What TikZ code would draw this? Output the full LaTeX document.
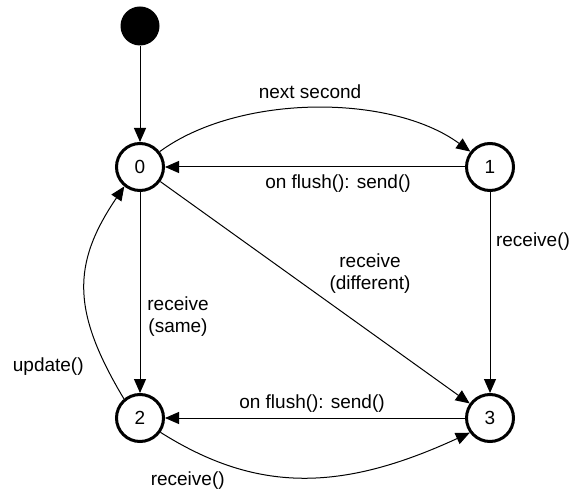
\documentclass[tikz,border=0pt]{standalone}
\usepackage{fontspec}
\setmainfont{Liberation Sans}
\usetikzlibrary{arrows.meta}
\begin{document}
\begin{tikzpicture}[x=1bp,y=-1bp,
  state/.style={circle,draw,line width=3bp,minimum size=47bp,inner sep=0pt,font=\fontsize{19bp}{22bp}\selectfont},
  initdot/.style={circle,fill=black,minimum size=39bp,inner sep=0pt},
  trans/.style={draw,line width=1bp,-{Triangle[length=14bp,width=12bp]}},
  lbl/.style={anchor=center,align=center,inner sep=0pt,font=\fontsize{19bp}{22bp}\selectfont}]
\useasboundingbox (0,0) rectangle (579,494);

\node[initdot] (init) at (140,26) {};
\node[state] (n0) at (140,167) {0};
\node[state] (n1) at (490,167) {1};
\node[state] (n2) at (140,418) {2};
\node[state] (n3) at (490,418) {3};

\draw[trans] (init) -- (n0);
\draw[trans] (n0.38) .. controls +(79,-58) and +(-79,-58) .. (n1.142)
  node[lbl,pos=0.5,xshift=-5bp,yshift=16bp] (l01) {next second};
\draw[trans] (n1) -- (n0)
  node[lbl,pos=0.5,xshift=23bp,yshift=-16.5bp] (l10) {on flush(): send()};
\draw[trans] (n1) -- (n3)
  node[lbl,pos=0.25,xshift=43bp,yshift=1bp] (l13) {receive()};
\draw[trans] (n0) -- (n3)
  node[lbl,pos=0.5,xshift=55bp,yshift=18.5bp] (l03) {receive\\(different)};
\draw[trans] (n0) -- (n2)
  node[lbl,pos=0.5,xshift=38bp,yshift=-24.5bp] (l02) {receive\\(same)};
\draw[trans] (n2.130) .. controls +(-52,-87) and +(-53,78) .. (n0.231)
  node[lbl,pos=0.13,xshift=-58bp] (l20) {update()};
\draw[trans] (n3) -- (n2)
  node[lbl,pos=0.5,xshift=-3bp,yshift=14.5bp] (l32) {on flush(): send()};
\draw[trans] (n2.-35) .. controls +(95,60) and +(-130,60) .. (n3.216)
  node[lbl,pos=0.1,xshift=-1bp,yshift=-32bp] (l23) {receive()};
\end{tikzpicture}
\end{document}
